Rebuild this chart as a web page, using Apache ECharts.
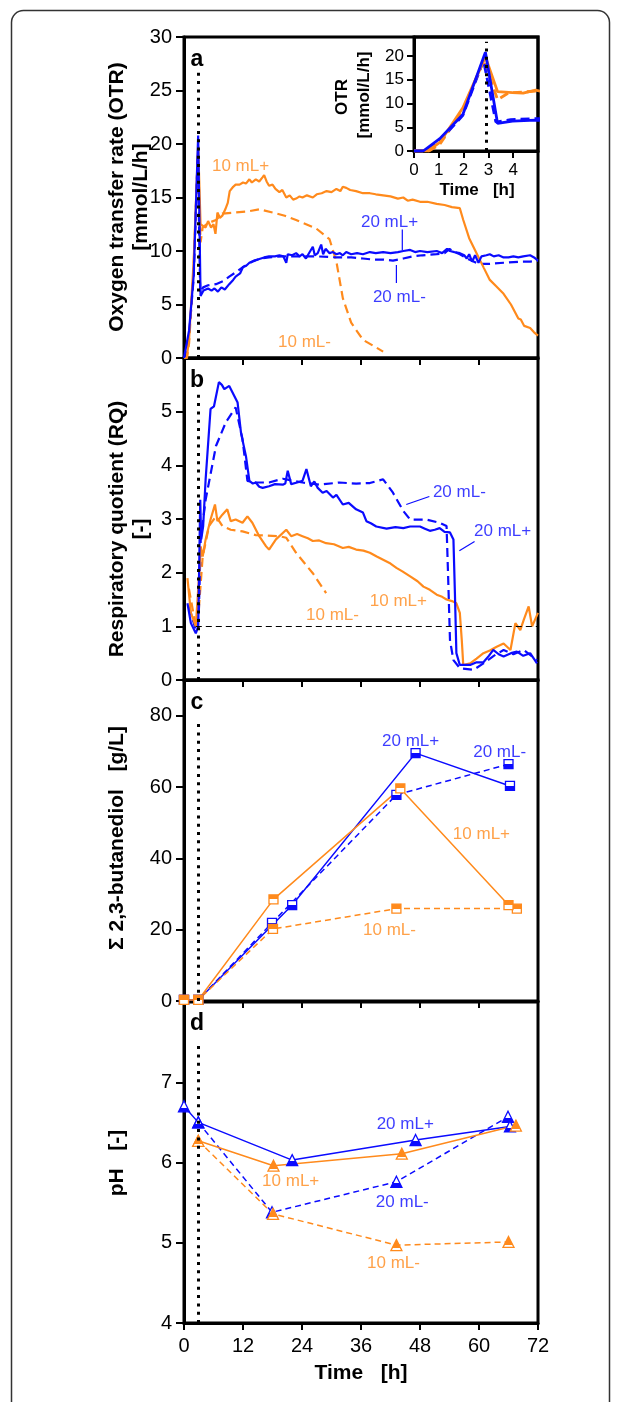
<!DOCTYPE html>
<html><head><meta charset="utf-8">
<script src="https://cdn.jsdelivr.net/npm/echarts@6/dist/echarts.min.js"></script>
<style>html,body{margin:0;padding:0;background:#fff}#c{width:621px;height:1402px}</style>
</head><body><div id="c"></div>
<script>
// ---------------- DATA ----------------
// x ticks / reference values
const xTicksMax = 72, xInterval = 12;
const inductionTime = 2.9;   // dotted vertical line [h]
const rqReference = 1;       // dashed horizontal line in RQ panel

// (a) OTR [mmol/L/h] vs time [h]
const otr20p = [[0,0],[0.37,0],[1.04,2.6],[1.97,7.7],[2.88,20.8],[3.37,5.8],[3.97,6.3],[4.9,6.5],[5.6,6.3],[6.2,6.5],[6.9,6.2],[7.6,6.6],[8.3,6.4],[9.2,6.9],[10.0,7.3],[10.5,7.6],[11.4,7.9],[12.0,8.5],[12.6,8.6],[13.3,8.9],[14.2,9.1],[15.0,9.2],[16.3,9.4],[17.3,9.5],[18.5,9.5],[19.4,9.6],[20.2,9.5],[20.8,8.9],[21.1,9.7],[22.0,9.6],[22.8,9.8],[23.5,9.5],[24.1,9.7],[24.8,9.3],[25.3,9.7],[26.2,10.4],[26.6,9.6],[27.2,9.8],[27.9,10.6],[28.3,9.7],[28.8,10.2],[29.6,9.8],[30.3,9.9],[31.0,9.7],[31.7,9.8],[32.3,9.6],[33.0,9.9],[34.0,9.7],[35.2,9.8],[36.4,9.7],[37.8,9.9],[39.0,9.8],[40.5,9.9],[42.0,9.8],[43.5,9.9],[44.6,10.0],[46.0,10.1],[47.0,9.9],[48.0,10.0],[49.5,9.9],[51.4,10.0],[52.5,9.8],[53.5,10.2],[54.1,10.0],[55.0,9.9],[56.1,9.8],[57.0,9.6],[57.5,9.3],[58.0,9.7],[58.6,9.0],[59.2,9.6],[59.9,8.9],[60.5,9.5],[61.5,9.6],[62.2,9.7],[63.0,9.5],[64.0,9.6],[65.0,9.4],[66.0,9.4],[67.0,9.5],[68.0,9.4],[69.0,9.5],[70.4,9.6],[71.2,9.4],[72,9.1]];
const otr20m = [[0,0],[0.45,0],[1.04,2.2],[1.97,7.5],[2.8,19.1],[3.3,6.1],[3.9,6.6],[4.9,6.8],[6.5,6.9],[8.0,7.2],[9.2,7.6],[10.5,8.0],[12.0,8.5],[13.9,9.0],[15.5,9.3],[17.3,9.4],[20.0,9.5],[24.1,9.5],[27.0,9.5],[31.0,9.4],[34.0,9.4],[36.4,9.3],[38.5,9.2],[40.5,9.2],[42.5,9.1],[44.6,9.3],[46.5,9.5],[48.5,9.6],[51.4,9.7],[53.0,9.8],[54.0,10.2],[55.0,9.9],[56.1,9.7],[58.0,9.2],[59.9,8.8],[62.2,8.8],[65.0,8.9],[68.4,9.0],[70.4,9.0],[72,9.1]];
const otr10p = [[0,0],[0.55,0],[1.04,1.8],[1.97,9.1],[2.88,19.8],[3.37,12.5],[3.97,12.3],[4.4,12.2],[4.9,12.8],[5.5,12.2],[6.0,12.5],[6.4,11.6],[6.8,13.6],[7.3,13.1],[7.8,13.3],[8.4,13.9],[8.9,14.5],[9.3,15.6],[10.0,16.0],[10.5,16.2],[11.3,16.2],[12.0,16.4],[12.6,16.3],[13.3,16.7],[13.8,16.4],[14.6,16.7],[15.3,16.5],[16.0,16.9],[16.3,17.1],[16.8,16.5],[17.3,16.1],[18.0,16.2],[18.6,15.8],[19.4,15.5],[20.0,15.7],[20.8,15.0],[21.5,15.2],[22.2,14.8],[22.8,14.9],[23.5,15.1],[24.1,15.0],[25.0,15.2],[26.2,15.0],[27.0,15.3],[28.0,15.4],[29.0,15.6],[30.0,15.5],[31.0,15.8],[31.8,15.6],[32.3,16.0],[33.0,15.9],[33.8,15.7],[35.0,15.6],[36.4,15.4],[37.8,15.4],[39.0,15.3],[40.5,15.2],[42.0,15.1],[43.5,14.9],[44.6,15.0],[45.5,14.7],[46.5,14.8],[48.0,14.6],[49.5,14.6],[51.4,14.4],[53.0,14.3],[54.5,14.1],[56.1,14.0],[56.8,12.9],[58.0,11.2],[59.5,9.8],[61.0,8.4],[62.2,7.3],[63.5,6.7],[65.0,6.0],[66.5,5.0],[68.0,3.7],[68.5,3.6],[69.2,3.0],[70.4,2.8],[71.2,2.4],[72,2.1]];
const otr10m = [[0,0],[0.6,0],[1.04,1.4],[1.97,8.6],[2.82,19.1],[3.37,10.8],[3.8,12.2],[4.9,12.6],[6.5,12.9],[7.8,13.5],[10.5,13.6],[13.0,13.7],[15.3,13.9],[18.0,13.6],[20.5,13.3],[22.8,12.9],[26.9,12.1],[29.6,11.1],[31.0,9.0],[32.3,5.6],[34.0,3.3],[36.4,1.7],[40.5,0.6]];

// (b) RQ [-]
const rq20p = [[0.7,1.43],[1.4,1.06],[2.4,0.87],[2.9,1.0],[3.3,3.36],[3.5,2.62],[3.9,2.87],[4.4,3.74],[5.4,5.05],[6.1,5.1],[7.1,5.55],[7.7,5.5],[8.2,5.42],[9.2,5.48],[10.9,5.17],[11.6,4.6],[12.6,4.17],[13.3,3.71],[14.0,3.66],[14.6,3.68],[15.3,3.6],[16.0,3.58],[17.3,3.61],[18.5,3.65],[20.1,3.64],[20.6,3.66],[21.1,3.9],[21.8,3.65],[23.0,3.68],[24.1,3.71],[24.9,3.93],[25.8,3.61],[26.5,3.7],[27.2,3.58],[28.2,3.49],[29.0,3.52],[30.3,3.4],[31.0,3.45],[32.3,3.27],[33.5,3.3],[35.0,3.18],[36.4,3.12],[37.1,2.96],[38.0,2.92],[39.1,2.86],[41.2,2.82],[43.0,2.85],[44.6,2.83],[46.0,2.86],[48.0,2.86],[49.0,2.82],[50.0,2.78],[51.0,2.8],[52.0,2.83],[53.0,2.76],[54.1,2.75],[54.8,2.62],[55.1,1.62],[55.4,0.5],[56.1,0.28],[58.2,0.28],[59.5,0.33],[60.9,0.33],[62.0,0.45],[62.9,0.56],[64.0,0.48],[65.0,0.44],[66.5,0.5],[67.7,0.53],[69.0,0.45],[70.4,0.5],[71.8,0.31]];
const rq20m = [[1.0,1.37],[2.4,0.93],[3.0,1.2],[3.4,2.62],[4.4,3.36],[6.5,4.36],[8.5,4.8],[10.5,5.08],[11.9,4.49],[12.9,3.71],[14.6,3.68],[17.3,3.68],[20.1,3.75],[24.1,3.68],[27.6,3.64],[31.6,3.68],[35.0,3.66],[37.8,3.67],[40.5,3.74],[42.5,3.49],[44.6,3.15],[46.0,2.99],[49.3,2.99],[52.0,2.93],[53.4,2.87],[53.7,1.99],[54.1,0.74],[54.8,0.37],[56.1,0.22],[58.9,0.19],[60.9,0.31],[63.0,0.45],[65.0,0.56],[67.0,0.48],[69.1,0.56],[71.8,0.37]];
const rq10p = [[0.7,1.9],[1.4,1.25],[2.4,1.0],[3.1,1.99],[3.4,2.49],[3.8,2.3],[4.4,2.62],[5.4,2.99],[6.3,3.27],[6.8,2.96],[7.8,3.08],[8.8,3.18],[9.5,2.96],[10.5,2.99],[11.9,2.93],[12.9,3.05],[13.9,2.93],[15.3,2.68],[16.7,2.49],[17.3,2.43],[18.7,2.62],[20.8,2.8],[21.8,2.68],[23.0,2.72],[24.1,2.68],[25.2,2.64],[26.2,2.59],[27.5,2.6],[28.9,2.55],[30.5,2.53],[32.3,2.46],[33.5,2.48],[35.0,2.43],[36.5,2.41],[37.8,2.37],[39.2,2.3],[40.5,2.24],[42.0,2.17],[43.2,2.09],[44.5,2.02],[46.0,1.93],[47.5,1.84],[48.7,1.74],[50.0,1.68],[51.4,1.59],[52.5,1.55],[53.4,1.5],[54.5,1.47],[55.4,1.43],[56.1,1.25],[56.5,0.74],[56.8,0.28],[58.2,0.31],[59.5,0.4],[60.9,0.5],[62.2,0.55],[63.6,0.62],[65.0,0.68],[66.4,0.56],[67.4,1.06],[68.4,0.93],[69.1,1.12],[70.1,1.37],[70.8,1.0],[72,1.25]];
const rq10m = [[1.0,1.7],[2.4,1.0],[3.0,1.3],[3.8,2.3],[5.1,2.87],[6.5,3.05],[7.8,2.87],[9.5,2.8],[11.9,2.77],[14.6,2.7],[19.4,2.68],[20.8,2.65],[22.8,2.37],[26.2,1.99],[28.9,1.62]];

// (c) sum 2,3-butanediol [g/L]
const bdo20p = [[0,0.3],[2.9,0.3],[22.0,26.9],[47.1,69.5],[66.3,60.3]];
const bdo20m = [[0,0.3],[2.9,0.3],[17.9,21.9],[43.2,57.8],[66.0,66.4]];
const bdo10p = [[0,0.3],[2.9,0.3],[18.2,28.5],[44.0,59.6],[66.0,26.9]];
const bdo10m = [[0,0.3],[2.9,0.3],[18.1,20.2],[43.2,25.9],[67.7,25.9]];

// (d) pH [-]
const ph20p = [[0,6.7],[2.9,6.5],[22.0,6.03],[47.1,6.28],[66.3,6.45]];
const ph20m = [[2.9,6.5],[17.9,5.38],[43.2,5.76],[65.9,6.57]];
const ph10p = [[2.9,6.27],[18.2,5.96],[44.3,6.11],[67.5,6.46]];
const ph10m = [[2.9,6.27],[18.1,5.36],[43.2,4.97],[66.0,5.01]];

// series annotations [x, y, text, colourKey]
const labelsA = [[11.5,17.9,'10 mL+','o'],[41.8,12.7,'20 mL+','b'],[43.8,5.7,'20 mL-','b'],[24.5,1.5,'10 mL-','o']];
const leadersA = [[[44.4,12.0],[44.4,10.1]],[[43.2,8.7],[43.2,7.0]]];
const labelsB = [[56.0,3.5,'20 mL-','b'],[64.8,2.77,'20 mL+','b'],[43.6,1.46,'10 mL+','o'],[30.2,1.21,'10 mL-','o']];
const leadersB = [[[45.2,3.27],[49.9,3.42]],[[56.0,2.41],[59.1,2.58]]];
const labelsC = [[46.1,72.9,'20 mL+','b'],[64.2,69.8,'20 mL-','b'],[60.5,46.6,'10 mL+','o'],[41.8,19.8,'10 mL-','o']];
const labelsD = [[45.0,6.47,'20 mL+','b'],[21.7,5.76,'10 mL+','o'],[44.4,5.51,'20 mL-','b'],[42.6,4.75,'10 mL-','o']];

// ---------------- STYLE ----------------
const BLUE = '#0b0bff', ORANGE = '#ff8a1c';
const F = "'Liberation Sans', Arial, Helvetica, sans-serif";
const col = k => k === 'b' ? BLUE : ORANGE;

const L = 184, W = 354;
const grids = [
  {left:L, width:W, top:37, height:321},
  {left:L, width:W, top:358, height:322},
  {left:L, width:W, top:680, height:321},
  {left:L, width:W, top:1002, height:321},
  {left:414, width:124, top:37, height:114}
].map(g => Object.assign({show:true, borderColor:'#000', borderWidth:3, backgroundColor:'transparent', containLabel:false}, g));

function xAx(i, showLabel) {
  return {gridIndex:i, type:'value', min:0, max:xTicksMax, interval:xInterval,
    axisLine:{show:true, onZero:false, lineStyle:{color:'#000', width:3}},
    axisTick:{show:true, inside:false, length:7, lineStyle:{color:'#000', width:2}},
    axisLabel:{show:showLabel, fontSize:20, color:'#000', fontFamily:F, margin:13},
    splitLine:{show:false}};
}
function yAx(i, min, max, interval, showMax) {
  return {gridIndex:i, type:'value', min, max, interval,
    axisLine:{show:true, onZero:false, lineStyle:{color:'#000', width:3}},
    axisTick:{show:true, inside:false, length:8, lineStyle:{color:'#000', width:2}},
    axisLabel:{show:true, fontSize:20, color:'#000', fontFamily:F, margin:12, showMaxLabel:showMax},
    splitLine:{show:false}};
}
const xAxis = [xAx(0,false), xAx(1,false), xAx(2,false), xAx(3,true),
  {gridIndex:4, type:'value', min:0, max:5, interval:1,
   axisLine:{show:true, onZero:false, lineStyle:{color:'#000', width:3}},
   axisTick:{show:true, length:7, lineStyle:{color:'#000', width:2}},
   axisLabel:{fontSize:17, color:'#000', fontFamily:F, margin:11, showMaxLabel:false},
   splitLine:{show:false}}];
const yAxis = [yAx(0,0,30,5,true), yAx(1,0,6,1,false), yAx(2,0,90,20,false), yAx(3,4,8,1,false),
  {gridIndex:4, type:'value', min:0, max:24, interval:5,
   axisLine:{show:true, onZero:false, lineStyle:{color:'#000', width:3}},
   axisTick:{show:true, length:7, lineStyle:{color:'#000', width:2}},
   axisLabel:{fontSize:17, color:'#000', fontFamily:F, margin:10, showMaxLabel:false},
   splitLine:{show:false}}];

function curve(data, color, dashed, gi, width) {
  return {type:'line', data, xAxisIndex:gi, yAxisIndex:gi, symbol:'none', clip:true, silent:true,
    animation:false, lineStyle:{color, width, type: dashed ? [9,5] : 'solid'}};
}
function halfFill(color, topFilled, split) {
  const a = topFilled ? color : '#fff', b = topFilled ? '#fff' : color;
  return {type:'linear', x:0, y:0, x2:0, y2:1,
    colorStops:[{offset:0,color:a},{offset:split,color:a},{offset:split,color:b},{offset:1,color:b}]};
}
function marked(data, color, dashed, gi, symbol, size, topFilled, split) {
  return {type:'line', data, xAxisIndex:gi, yAxisIndex:gi, symbol, symbolSize:size, clip:false, silent:true,
    animation:false, showAllSymbol:true,
    lineStyle:{color, width:1.5, type: dashed ? [6,4] : 'solid'},
    itemStyle:{color:halfFill(color, topFilled, split), borderColor:color, borderWidth:1.3}};
}
function labelSeries(list, gi) {
  return {type:'scatter', xAxisIndex:gi, yAxisIndex:gi, silent:true, animation:false,
    symbol:'rect', symbolSize:1, itemStyle:{color:'rgba(0,0,0,0)'},
    data: list.map(d => ({value:[d[0], d[1]],
      label:{show:true, position:'inside', formatter:d[2], color:col(d[3]), fontSize:17, fontFamily:F}}))};
}
function leaderSeries(list, color, gi) {
  return list.map(seg => ({type:'line', data:seg, xAxisIndex:gi, yAxisIndex:gi, symbol:'none', silent:true,
    animation:false, lineStyle:{color, width:1.2}}));
}
function refLine(gi, coords, dotted) {
  return {type:'line', data:[], xAxisIndex:gi, yAxisIndex:gi, silent:true, animation:false,
    markLine:{silent:true, symbol:'none', animation:false, label:{show:false},
      lineStyle: dotted ? {color:'#000', width:3, type:[3,5.3]} : {color:'#000', width:1.2, type:[6,4]},
      data:[[{coord:coords[0]},{coord:coords[1]}]]}};
}

const series = [
  // (a)
  curve(otr10m, ORANGE, true, 0, 2.2), curve(otr20m, BLUE, true, 0, 2.2),
  curve(otr10p, ORANGE, false, 0, 2.2), curve(otr20p, BLUE, false, 0, 2.2),
  refLine(0, [[inductionTime,0],[inductionTime,26.7]], true),
  labelSeries(labelsA, 0), ...leaderSeries(leadersA, BLUE, 0),
  // inset (same data, zoomed)
  curve(otr10m, ORANGE, true, 4, 2.8), curve(otr20m, BLUE, true, 4, 2.8),
  curve(otr10p, ORANGE, false, 4, 2.8), curve(otr20p, BLUE, false, 4, 2.8),
  refLine(4, [[inductionTime,0],[inductionTime,23]], true),
  // (b)
  curve(rq10m, ORANGE, true, 1, 2.2), curve(rq20m, BLUE, true, 1, 2.2),
  curve(rq10p, ORANGE, false, 1, 2.2), curve(rq20p, BLUE, false, 1, 2.2),
  refLine(1, [[inductionTime,0],[inductionTime,5.4]], true),
  refLine(1, [[2.4,rqReference],[xTicksMax,rqReference]], false),
  labelSeries(labelsB, 1), ...leaderSeries(leadersB, BLUE, 1),
  // (c)
  refLine(2, [[inductionTime,0],[inductionTime,79]], true),
  marked(bdo20m, BLUE, true, 2, 'rect', 9, false, 0.5), marked(bdo20p, BLUE, false, 2, 'rect', 9, false, 0.5),
  marked(bdo10m, ORANGE, true, 2, 'rect', 9, true, 0.5), marked(bdo10p, ORANGE, false, 2, 'rect', 9, true, 0.5),
  labelSeries(labelsC, 2),
  // (d)
  refLine(3, [[inductionTime,4],[inductionTime,7.46]], true),
  marked(ph20m, BLUE, true, 3, 'triangle', 11, false, 0.6), marked(ph20p, BLUE, false, 3, 'triangle', 11, false, 0.6),
  marked(ph10m, ORANGE, true, 3, 'triangle', 11, true, 0.75), marked(ph10p, ORANGE, false, 3, 'triangle', 11, true, 0.75),
  labelSeries(labelsD, 3)
];

function txt(x, y, text, font, rot) {
  return {type:'text', x, y, rotation: rot || 0, silent:true, z:100,
    style:{text, font, fill:'#000', align:'center', verticalAlign:'middle', textAlign:'center', textVerticalAlign:'middle'}};
}
const B20 = 'bold 21px ' + F, B17 = 'bold 17px ' + F, B22 = 'bold 23px ' + F;
const R = Math.PI / 2;
const graphic = [
  {type:'rect', silent:true, z:-10, shape:{x:11.5, y:10.5, width:598, height:1440, r:12},
   style:{fill:'none', stroke:'#333', lineWidth:1.5}},
  txt(117, 197, 'Oxygen transfer rate (OTR)', B20, R),
  txt(141, 197, '[mmol/L/h]', B20, R),
  txt(117, 529, 'Respiratory quotient (RQ)', B20, R),
  txt(141, 529, '[-]', B20, R),
  txt(117, 838, 'Σ 2,3-butanediol   [g/L]', B20, R),
  txt(117, 1163, 'pH   [-]', B20, R),
  txt(361, 1373, 'Time   [h]', B20, 0),
  txt(342, 97, 'OTR', B17, R),
  txt(364, 95, '[mmol/L/h]', B17, R),
  txt(477, 190, 'Time   [h]', B17, 0),
  txt(197, 60, 'a', B22, 0),
  txt(197, 381, 'b', B22, 0),
  txt(197, 703, 'c', B22, 0),
  txt(197, 1024, 'd', B22, 0)
];

const chart = echarts.init(document.getElementById('c'), null, {renderer:'canvas'});
chart.setOption({animation:false, backgroundColor:'#fff', grid:grids, xAxis, yAxis, series, graphic});
</script></body></html>
